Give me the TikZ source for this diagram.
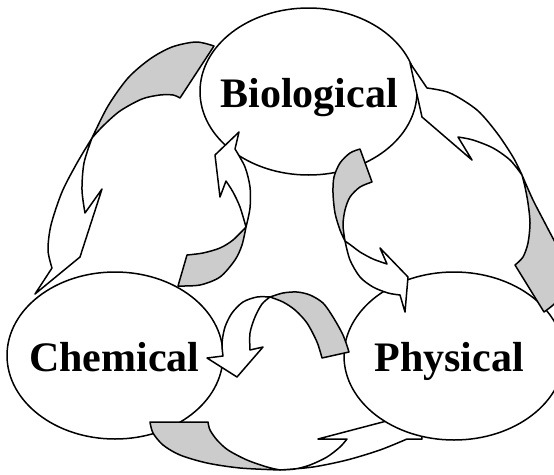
\documentclass[tikz,border=0pt]{standalone}
\usepackage{fontspec}
\setmainfont{Liberation Serif}
\usetikzlibrary{shapes.geometric}
\definecolor{ribbon}{RGB}{204,204,204}
\begin{document}
\begin{tikzpicture}[x=1pt,y=-1pt, line width=1.5pt, line join=round,
  blob/.style={draw=black, fill=white, ellipse, inner sep=0pt, outer sep=0pt},
  back/.style={draw=black, fill=ribbon},
  front/.style={draw=black, fill=white},
  lbl/.style={font=\fontsize{42}{48}\selectfont\bfseries, anchor=base, inner sep=0pt}]
\useasboundingbox[fill=white] (0,0) rectangle (554,474);
% ellipses (Physical drawn after the bottom arrow)
\node[blob, minimum width=216pt, minimum height=167pt] (chem) at (115,355.5) {};
\node[blob, minimum width=217pt, minimum height=167pt] (bio) at (308.5,91.5) {};
% arrow 6: Chemical -> Physical (bottom, outer)
\draw[back] (150,422) -- (208,422) -- plot[smooth] coordinates {(208,422) (210,430) (217,440) (228,450) (247,460) (267,467) (280,470)} -- plot[smooth] coordinates {(280,470) (240,468) (207,463) (180,455) (163,445) (153,433) (150,422)} -- cycle;
\draw[front] plot[smooth] coordinates {(280,470) (313,467) (347,460) (380,450) (407,439)} -- (422,439) -- (421,412) -- (318,439) -- (347,439) -- plot[smooth] coordinates {(347,439) (340,447) (327,457) (310,465) (295,469) (280,470)} -- cycle;
\node[blob, minimum width=220pt, minimum height=168pt] (phys) at (454,356) {};
% arrow 1: Biological -> Chemical (left, outer)
\draw[back] plot[smooth] coordinates {(214,46) (196,42) (172,47) (150,59) (128,78) (108,106) (92,138)} -- plot[smooth] coordinates {(92,138) (103,126) (120,111) (142,99) (160,95) (173,95) (180,98)} -- cycle;
\draw[front] plot[smooth] coordinates {(92,138) (77,163) (62,192) (51,225) (48,250) (52,268)} -- (35,294) -- (80,257) -- (102,189) -- (85,213) -- plot[smooth] coordinates {(85,213) (82,190) (84,163) (92,138)} -- cycle;
% arrow 2: Chemical -> Biological (left, inner)
\draw[back] plot[smooth] coordinates {(187,255) (203,253) (220,248) (233,240) (246,227)} -- plot[smooth] coordinates {(246,227) (242,245) (235,260) (220,277) (200,285) (178,286)} -- cycle;
\draw[front] plot[smooth] coordinates {(246,227) (250,208) (250,187) (245,167) (235,149)} -- (239,132) -- (215,155) -- (220,197) -- (226,181) -- plot[smooth] coordinates {(226,181) (233,192) (240,207) (246,227)} -- cycle;
% arrow 3: Biological -> Physical (right, inner)
\draw[back] plot[smooth] coordinates {(360,149) (350,153) (340,163) (334,177) (333,193) (335,213) (340,230) (345,241)} -- plot[smooth] coordinates {(345,241) (343,225) (345,210) (350,197) (360,187) (372,182)} -- cycle;
\draw[front] plot[smooth] coordinates {(345,241) (350,260) (360,277) (373,287) (388,293) (400,295)} -- (405,312) -- (408,277) -- (380,248) -- (387,264) -- plot[smooth] coordinates {(387,264) (373,259) (360,252) (352,246) (345,241)} -- cycle;
% arrow 4: Physical -> Biological (right, outer)
\draw[back] plot[smooth] coordinates {(515,265) (523,257) (528,243) (530,223) (528,203) (525,187) (522,175)} -- plot[smooth] coordinates {(522,175) (533,200) (547,227) (561,255) (566,280) (558,300) (544,312)} -- cycle;
\draw[front] plot[smooth] coordinates {(522,175) (513,157) (497,133) (477,110) (450,93) (427,88)} -- (410,63) -- (422,117) -- (472,160) -- (458,137) -- plot[smooth] coordinates {(458,137) (473,140) (493,148) (510,160) (522,175)} -- cycle;
% arrow 5: Physical -> Chemical (bottom, inner)
\draw[back] plot[smooth] coordinates {(322,358) (317,342) (307,323) (295,310) (283,302) (270,297)} -- plot[smooth] coordinates {(270,297) (283,293) (297,292) (310,295) (323,303) (333,317) (343,335) (349,352)} -- cycle;
\draw[front] plot[smooth] coordinates {(270,297) (257,297) (243,302) (232,313) (225,327) (222,343) (223,356)} -- (207,358) -- (237,377) -- (263,347) -- (250,350) -- plot[smooth] coordinates {(250,350) (250,333) (255,317) (262,304) (270,297)} -- cycle;
% labels
\node[lbl] (biolbl) at (309,107) {Biological};
\node[lbl] (chemlbl) at (114.3,371) {Chemical};
\node[lbl] (physlbl) at (449.3,371) {Physical};
\end{tikzpicture}
\end{document}
